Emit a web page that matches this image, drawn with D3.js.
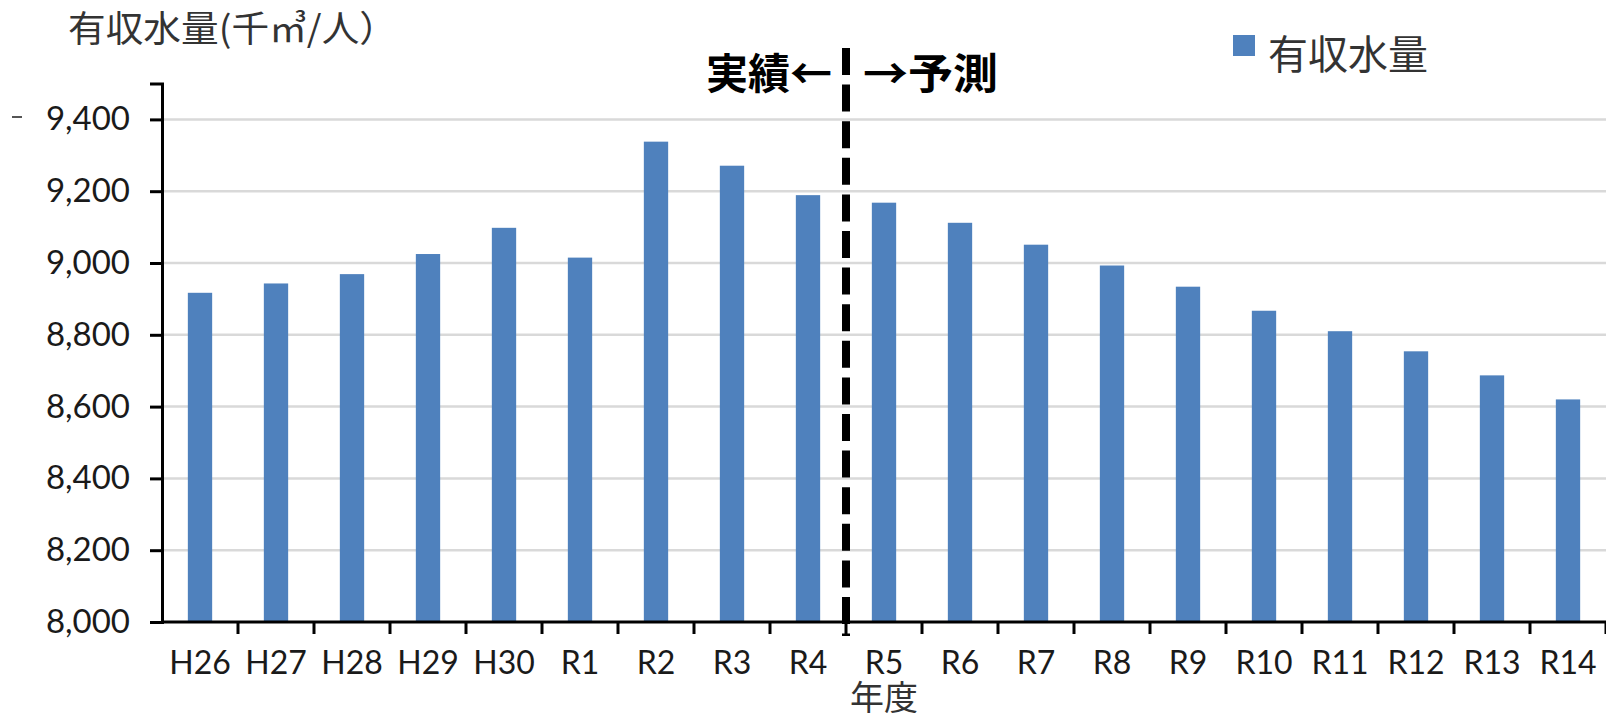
<!DOCTYPE html>
<html>
<head>
<meta charset="utf-8">
<script src="https://d3js.org/d3.v7.min.js"></script>
<style>
    body { margin: 0; background: #fff; }
    svg { display: block; }
    .tick text { font-family: Lato, "Noto Sans", sans-serif; fill: #1a1a1a; }
    .jp { font-family: "Noto Sans CJK JP", sans-serif; }
</style>
</head>
<body>
<svg id="chart" width="1606" height="713"></svg>
<script>
    // data
    const years = ["H26", "H27", "H28", "H29", "H30", "R1", "R2", "R3", "R4",
                   "R5", "R6", "R7", "R8", "R9", "R10", "R11", "R12", "R13", "R14"];
    const volume = [8917, 8943, 8969, 9025, 9098, 9015, 9338, 9271, 9189,
                    9168, 9112, 9051, 8993, 8934, 8867, 8810, 8754, 8687, 8620];
    const yTicks = [8000, 8200, 8400, 8600, 8800, 9000, 9200, 9400];
    const firstForecast = "R5";

    const svg = d3.select("#chart");

    const x = d3.scaleBand()
        .domain(years)
        .range([162, 1606])
        .paddingInner(0.68)
        .paddingOuter(0.34);

    const y = d3.scaleLinear()
        .domain([8000, 9500])
        .range([622, 83.5]);

    // gridlines
    svg.append("g")
        .selectAll("line")
        .data(yTicks.slice(1))
        .enter()
        .append("line")
        .attr("x1", 162).attr("x2", 1606)
        .attr("y1", d => y(d)).attr("y2", d => y(d))
        .attr("stroke", "#d9d9d9")
        .attr("stroke-width", 2.5);

    // bars
    svg.append("g")
        .selectAll("rect")
        .data(years)
        .enter()
        .append("rect")
        .attr("x", d => x(d))
        .attr("width", x.bandwidth())
        .attr("y", (d, i) => y(volume[i]))
        .attr("height", (d, i) => y(8000) - y(volume[i]))
        .attr("fill", "#4f81bd");

    // y axis
    const yAxis = svg.append("g")
        .attr("transform", "translate(162,0)")
        .call(d3.axisLeft(y).tickValues(yTicks).tickSize(12).tickPadding(20)
            .tickFormat(d3.format(",")));
    yAxis.select(".domain").attr("stroke", "#000").attr("stroke-width", 3);
    yAxis.selectAll(".tick line").attr("stroke", "#000").attr("stroke-width", 3);
    yAxis.selectAll(".tick text").attr("font-size", 33);

    // x axis: labels under bars, ticks at category boundaries
    const xAxis = svg.append("g")
        .attr("transform", "translate(0,622)")
        .call(d3.axisBottom(x).tickSize(0).tickPadding(29));
    xAxis.select(".domain").remove();
    xAxis.selectAll(".tick text").attr("font-size", 32);

    const edge = d => x(d) - x.step() * x.paddingOuter();
    const bounds = years.map(edge).concat([x.range()[1]]);
    svg.append("line")
        .attr("x1", 162).attr("x2", 1606)
        .attr("y1", 622).attr("y2", 622)
        .attr("stroke", "#000").attr("stroke-width", 3);
    svg.append("g")
        .selectAll("line")
        .data(bounds.slice(1))
        .enter()
        .append("line")
        .attr("x1", d => d).attr("x2", d => d)
        .attr("y1", 622).attr("y2", 634)
        .attr("stroke", "#000").attr("stroke-width", 3);

    // stray mark at left edge
    svg.append("line")
        .attr("x1", 12).attr("x2", 22).attr("y1", 117).attr("y2", 117)
        .attr("stroke", "#555").attr("stroke-width", 2);

    // actual / forecast divider
    const splitX = edge(firstForecast);
    svg.append("line")
        .attr("x1", splitX).attr("x2", splitX)
        .attr("y1", 48).attr("y2", 636)
        .attr("stroke", "#000")
        .attr("stroke-width", 8)
        .attr("stroke-dasharray", "27,9.6");

    svg.append("text")
        .attr("class", "jp")
        .attr("x", splitX - 14).attr("y", 89)
        .attr("text-anchor", "end")
        .attr("font-size", 42).attr("font-weight", "bold")
        .text("実績←");
    svg.append("text")
        .attr("class", "jp")
        .attr("x", splitX + 17).attr("y", 89)
        .attr("font-size", 42).attr("font-weight", "bold")
        .attr("textLength", 135).attr("lengthAdjust", "spacingAndGlyphs")
        .text("→予測");

    // axis titles
    svg.append("text")
        .attr("class", "jp")
        .attr("x", 68).attr("y", 42)
        .attr("font-size", 36)
        .attr("fill", "#333")
        .attr("textLength", 329).attr("lengthAdjust", "spacingAndGlyphs")
        .text("有収水量(千㎥/人）");
    svg.append("text")
        .attr("class", "jp")
        .attr("x", (x.range()[0] + x.range()[1]) / 2).attr("y", 710)
        .attr("text-anchor", "middle")
        .attr("font-size", 34)
        .attr("fill", "#333")
        .text("年度");

    // legend
    svg.append("rect")
        .attr("x", 1233).attr("y", 35)
        .attr("width", 22).attr("height", 21)
        .attr("fill", "#4f81bd");
    svg.append("text")
        .attr("class", "jp")
        .attr("x", 1268).attr("y", 69)
        .attr("font-size", 40)
        .attr("fill", "#333")
        .text("有収水量");
</script>
</body>
</html>
